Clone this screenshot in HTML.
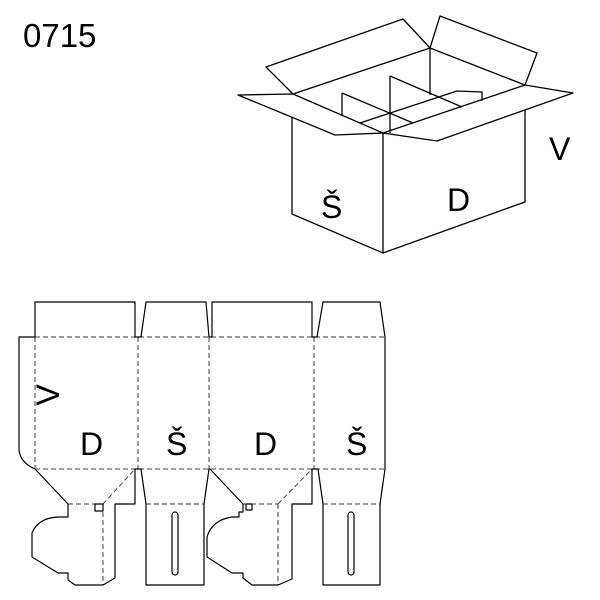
<!DOCTYPE html>
<html><head><meta charset="utf-8"><style>
html,body{margin:0;padding:0;background:#fff;}
svg{display:block;}
text{font-family:"Liberation Sans",Arial,sans-serif;fill:#000;}
</style></head><body>
<svg width="600" height="600" viewBox="0 0 600 600" xmlns="http://www.w3.org/2000/svg">
<text x="23" y="47" font-size="33">0715</text>
<g fill="none" stroke="#000" stroke-width="1.3" stroke-linejoin="round">
<polyline points="292,117 292,214 383,253 525,202 525,110"/>
<line x1="383" y1="133" x2="383" y2="253"/>
<polygon points="238,95 293,94 383,133 335,135" fill="#fff"/>
<polygon points="383,133 525,85 573,93 437,141" fill="#fff"/>
<polygon points="266,67 403,19 430,48 293,94"/>
<polygon points="440,16 537,53 525,85 430,48"/>
<line x1="430" y1="48" x2="430" y2="95"/>
<line x1="342" y1="93" x2="342" y2="115"/>
<line x1="342" y1="93" x2="413" y2="123"/>
<line x1="390" y1="76" x2="390" y2="133"/>
<line x1="390" y1="76" x2="462" y2="107"/>
<polyline points="360,123 457,91 482,92 482,101"/>
</g>
<text x="321" y="218" font-size="32">Š</text>
<text x="447" y="211" font-size="32">D</text>
<text x="549" y="160" font-size="32">V</text>

<g fill="none" stroke="#000" stroke-width="1.2" stroke-linejoin="round">
<path d="M35,337 V302 H135 V337 H141 L146,302 H206 L209,337 H212 V302 H312 V337 H317 L323,302 H380 L385,337 V469 L380,504 V585 H323 V504 L318,469 H312 V504 H292 V579 L278,585 H252 L243,578 V573 H232 L207,557 V537 Q212,520 232,517 H239 V512 H243 V504 L210,469 H209 L204,504 V585 H146 V504 L141,469 H135 V504 H115 V578 L103,585 H75 L68,580 V573 H58 L32,557 V533 Q38,518 58,517 H68 V504 L35,469 Q19,462 19,448 V337 Z"/>
<rect x="95" y="504" width="8" height="7"/>
<rect x="246" y="504" width="6" height="6"/>
<rect x="172" y="512" width="6" height="63" rx="3"/>
<rect x="348" y="512" width="6" height="63" rx="3"/>
</g>
<g fill="none" stroke="#000" stroke-width="1" stroke-dasharray="5,3" opacity="0.75">
<line x1="19" y1="337" x2="385" y2="337"/>
<line x1="35" y1="469" x2="385" y2="469"/>
<line x1="35" y1="337" x2="35" y2="469"/>
<line x1="138" y1="337" x2="138" y2="469"/>
<line x1="209" y1="337" x2="209" y2="469"/>
<line x1="314" y1="337" x2="314" y2="469"/>
<line x1="68" y1="504" x2="103" y2="504"/>
<line x1="146" y1="504" x2="204" y2="504"/>
<line x1="243" y1="504" x2="278" y2="504"/>
<line x1="323" y1="504" x2="380" y2="504"/>
<line x1="103" y1="504" x2="103" y2="585"/>
<line x1="278" y1="504" x2="278" y2="585"/>
<line x1="103" y1="504" x2="135" y2="469"/>
<line x1="278" y1="504" x2="312" y2="469"/>
</g>
<text x="80" y="455" font-size="32">D</text>
<text x="166" y="455" font-size="32">Š</text>
<text x="254" y="455" font-size="32">D</text>
<text x="346" y="455" font-size="32">Š</text>
<text transform="translate(59,395) rotate(-90)" font-size="32" text-anchor="middle">V</text>
</svg>
</body></html>
